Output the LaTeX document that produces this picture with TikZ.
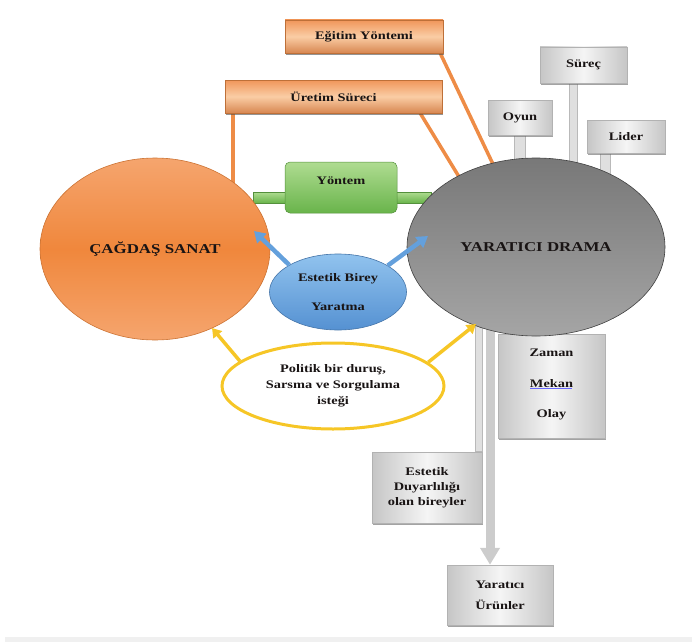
\documentclass[tikz,border=0pt]{standalone}
\usepackage{fontspec}
\setmainfont{Liberation Serif}[FakeStretch=1.25]
\usetikzlibrary{arrows.meta,shapes.geometric,backgrounds,shadows}
\definecolor{orbox}{RGB}{240,150,90}
\definecolor{orlight}{RGB}{250,205,165}
\definecolor{orline}{RGB}{238,140,70}
\definecolor{orell}{RGB}{240,135,60}
\definecolor{orelltop}{RGB}{245,165,110}
\definecolor{grellA}{RGB}{120,120,120}
\definecolor{grellB}{RGB}{165,165,165}
\definecolor{blueA}{RGB}{145,195,238}
\definecolor{blueB}{RGB}{85,145,210}
\definecolor{bluearr}{RGB}{100,160,220}
\definecolor{yel}{RGB}{246,198,38}
\definecolor{grnA}{RGB}{175,220,145}
\definecolor{grnB}{RGB}{105,180,75}
\definecolor{txt}{RGB}{25,20,20}
\tikzset{
  lab/.style={font=\bfseries\fontsize{11.5}{14}\selectfont, text=txt, align=center},
  orbox/.style={lab, rectangle, draw=orline!80!black, line width=0.5pt,
     top color=orbox, bottom color=orbox!90!black, middle color=orlight,
     drop shadow={shadow xshift=0.8pt, shadow yshift=-1.6pt, fill=black!70, opacity=0.6}},
  grbox/.style={lab, rectangle, draw=gray!60, line width=0.5pt,
     left color=gray!45, right color=gray!45, middle color=gray!8,
     drop shadow={shadow xshift=0.6pt, shadow yshift=-1.5pt, fill=black!60, opacity=0.6}},
  orlink/.style={orline, line width=3.5pt},
  grbar/.style={draw=gray!55, fill=gray!25, line width=0.6pt},
  bluearrow/.style={bluearr, line width=4.5pt, -{Triangle[width=13pt,length=11pt]}},
  yelarrow/.style={yel, line width=3.5pt, -{Triangle[width=11pt,length=9pt]}},
}
\begin{document}
\begin{tikzpicture}[x=1pt,y=-1pt]
\useasboundingbox (0,0) rectangle (692,642);
\fill[gray!12] (5,637) rectangle (692,642);

% boxes
\node[orbox, minimum width=158pt, minimum height=33pt] (egitim) at (364,36.5) {Eğitim Yöntemi};
\node[orbox, minimum width=217pt, minimum height=33pt] (uretim) at (333.5,96.5) {Üretim Süreci};
\node[grbox, minimum width=87pt, minimum height=36pt] (surec) at (583.5,65) {Süreç};
\node[grbox, minimum width=64pt, minimum height=35pt] (oyun) at (520,117.5) {Oyun};
\node[grbox, minimum width=78pt, minimum height=33pt] (lider) at (626,136.5) {Lider};

\node[grbox, minimum width=107pt, minimum height=104pt] (zaman) at (551.5,386) {};
\node[lab] (zt) at (551.5,353) {Zaman};
\node[lab] (mt) at (551.5,384) {Mekan};
\node[lab] (ot) at (551.5,415) {Olay};
\draw[blue!60, line width=0.5pt] (mt.south west) ++(4,-3) -- ++(42,0);

\node[grbox, minimum width=110pt, minimum height=71pt] (duyar) at (427,487.5) {Estetik\\[1pt]Duyarlılığı\\[1pt]olan bireyler};
\node[grbox, minimum width=106pt, minimum height=60pt] (urun) at (500,595) {Yaratıcı\\[7pt]Ürünler};

% ellipses
\node[ellipse, draw=orell!85!black, line width=0.6pt, top color=orelltop, bottom color=orelltop, middle color=orell,
  minimum width=230pt, minimum height=182pt, lab, font=\bfseries\fontsize{13.5}{16}\selectfont] (cagdas) at (155,249) {ÇAĞDAŞ SANAT};
\node[ellipse, draw=gray!50!black, line width=0.6pt, top color=grellA, bottom color=grellB,
  minimum width=258pt, minimum height=178pt, lab, font=\bfseries\fontsize{13.5}{16}\selectfont] (drama) at (536,247) {YARATICI DRAMA};
\node[ellipse, draw=blueB!80!black, line width=0.6pt, top color=blueA, bottom color=blueB,
  minimum width=137pt, minimum height=76pt, lab] (birey) at (338,292) {Estetik Birey\\[15pt]Yaratma};
\node[ellipse, draw=yel, line width=3pt, fill=white,
  minimum width=222pt, minimum height=86pt, lab] (politik) at (333,386) {Politik bir duruş,\\[2pt]Sarsma ve Sorgulama\\[2pt]isteği};
\node[rectangle, rounded corners=5pt, draw=grnB!80!black, line width=0.5pt, top color=grnA, bottom color=grnB,
  minimum width=112pt, minimum height=51pt, lab, text depth=14pt] (yontem) at (341,187.5) {Yöntem};

% background connectors
\coordinate (ax) at (490,300);
\begin{scope}[on background layer]
  \draw[orlink] (uretim.south west) ++(8,0) -- ++(0,90);
  \draw[orlink] (uretim.south east) ++(-22,0) -- ++(50,82);
  \draw[orlink] (egitim.south east) ++(-3,0) -- ++(58,122);
  \fill[grbar] (oyun.south) ++(-5.5,0) rectangle ++(11,40);
  \fill[grbar] (surec.south) ++(-14.5,0) rectangle ++(8,105);
  \fill[grbar] (lider.south) ++(-26,0) rectangle ++(10,45);
  \draw[grnB!80!black, top color=grnA, bottom color=grnB, line width=0.4pt] (253,192) rectangle (431,203);
  \fill[grbar] (475,300) rectangle (duyar.north east);
  \draw[gray!40, line width=9pt, -{Triangle[width=19pt,length=17pt]}] (ax) -- (ax |- urun.north);
\end{scope}

% arrows
\coordinate (c1) at (254,231);
\coordinate (d1) at (428,236);
\coordinate (c2) at (212,328);
\coordinate (d2) at (476,324);
\draw[bluearrow] (birey.151) -- (c1);
\draw[bluearrow] (birey.28) -- (d1);
\draw[yelarrow] (politik.165) -- (c2);
\draw[yelarrow] (politik.14) -- (d2);
\end{tikzpicture}
\end{document}
